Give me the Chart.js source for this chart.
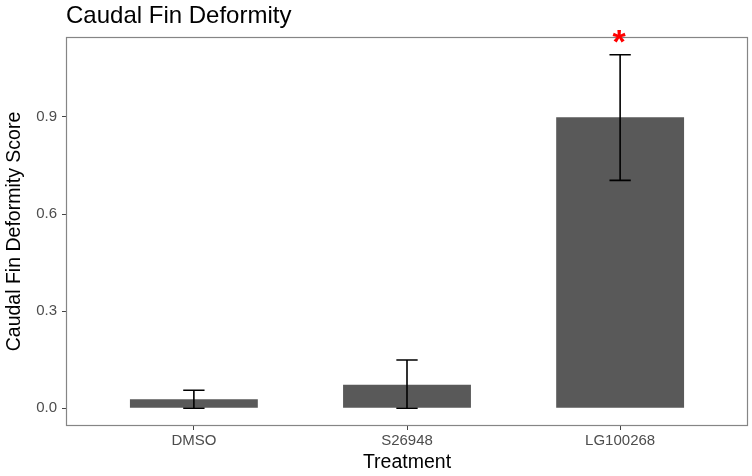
<!DOCTYPE html>
<html>
<head>
<meta charset="utf-8">
<script src="https://cdn.jsdelivr.net/npm/chart.js@4.4.0/dist/chart.umd.min.js"></script>
<style>
  html, body { margin: 0; padding: 0; background: #fff; }
  #wrap { width: 752px; height: 476px; }
</style>
</head>
<body>
<div id="wrap"><canvas id="chart"></canvas></div>
<script>
// --- data ---
const categories = ['DMSO', 'S26948', 'LG100268'];
const means = [0.028, 0.073, 0.899];
const errLow = [0, 0, 0.704];
const errHigh = [0.056, 0.149, 1.092];
const yTicks = [0.0, 0.3, 0.6, 0.9];
const starIndex = 2;   // LG100268 gets the red asterisk
const starY = 1.148;

const FONT = "'Liberation Sans', Arial, sans-serif";

// error bars, panel border, title and asterisk
const extras = {
  id: 'extras',
  afterDatasetsDraw(chart) {
    const { ctx, chartArea: a, scales: { x, y } } = chart;
    ctx.save();

    // error bars
    ctx.strokeStyle = '#000';
    ctx.lineWidth = 1.6;
    categories.forEach((c, i) => {
      const cx = x.getPixelForValue(i + 1);
      const l = x.getPixelForValue(i + 1 - 0.05);
      const r = x.getPixelForValue(i + 1 + 0.05);
      const lo = y.getPixelForValue(errLow[i]);
      const hi = y.getPixelForValue(errHigh[i]);
      ctx.beginPath();
      ctx.moveTo(cx, lo); ctx.lineTo(cx, hi);
      ctx.moveTo(l, lo); ctx.lineTo(r, lo);
      ctx.moveTo(l, hi); ctx.lineTo(r, hi);
      ctx.stroke();
    });

    // panel border
    ctx.strokeStyle = '#858585';
    ctx.lineWidth = 1.2;
    ctx.strokeRect(a.left + 0.5, a.top + 0.5, a.right - a.left - 1, a.bottom - a.top - 1);

    // title
    ctx.fillStyle = '#000';
    ctx.font = '24px ' + FONT;
    ctx.textAlign = 'left';
    ctx.textBaseline = 'alphabetic';
    ctx.fillText('Caudal Fin Deformity', a.left, 23);

    // significance asterisk
    ctx.fillStyle = '#ff0000';
    ctx.font = 'bold 34px ' + FONT;
    ctx.textAlign = 'center';
    const m = ctx.measureText('*');
    const sx = x.getPixelForValue(starIndex + 1) - 1;
    const sy = y.getPixelForValue(starY);
    const mid = (m.actualBoundingBoxAscent - m.actualBoundingBoxDescent) / 2;
    ctx.fillText('*', sx, sy + mid);

    ctx.restore();
  }
};

new Chart(document.getElementById('chart'), {
  type: 'bar',
  data: {
    datasets: [{
      data: means.map((v, i) => ({ x: i + 1, y: v })),
      backgroundColor: '#595959',
      borderWidth: 0,
      barPercentage: 0.6,
      categoryPercentage: 1.0
    }]
  },
  options: {
    responsive: true,
    maintainAspectRatio: false,
    animation: false,
    layout: { padding: { top: 37, right: 4, left: 0, bottom: 0 } },
    plugins: { legend: { display: false }, tooltip: { enabled: false }, title: { display: false } },
    scales: {
      x: {
        type: 'linear',
        offset: false,
        min: 0.4,
        max: 3.6,
        afterBuildTicks: s => { s.ticks = categories.map((c, i) => ({ value: i + 1 })); },
        afterFit: s => { s.height = 50; },
        grid: { display: true, drawOnChartArea: false, drawTicks: true, tickLength: 4, color: '#444', offset: false },
        border: { display: false },
        ticks: {
          padding: 2,
          maxRotation: 0,
          color: '#4d4d4d',
          font: { family: FONT, size: 15 },
          callback: v => categories[v - 1]
        },
        title: {
          display: true,
          text: 'Treatment',
          color: '#000',
          font: { family: FONT, size: 19.5 },
          padding: { top: 0, bottom: 2 }
        }
      },
      y: {
        min: -0.0546,
        max: 1.1466,
        afterBuildTicks: s => { s.ticks = yTicks.map(v => ({ value: v })); },
        afterFit: s => { s.width = 66; },
        grid: { display: true, drawOnChartArea: false, drawTicks: true, tickLength: 4, color: '#444' },
        border: { display: false },
        ticks: {
          padding: 5,
          color: '#4d4d4d',
          font: { family: FONT, size: 15 },
          callback: v => Number(v).toFixed(1)
        },
        title: {
          display: true,
          text: 'Caudal Fin Deformity Score',
          color: '#000',
          font: { family: FONT, size: 19.5 },
          padding: { top: 3, bottom: 0 }
        }
      }
    }
  },
  plugins: [extras]
});
</script>
</body>
</html>
